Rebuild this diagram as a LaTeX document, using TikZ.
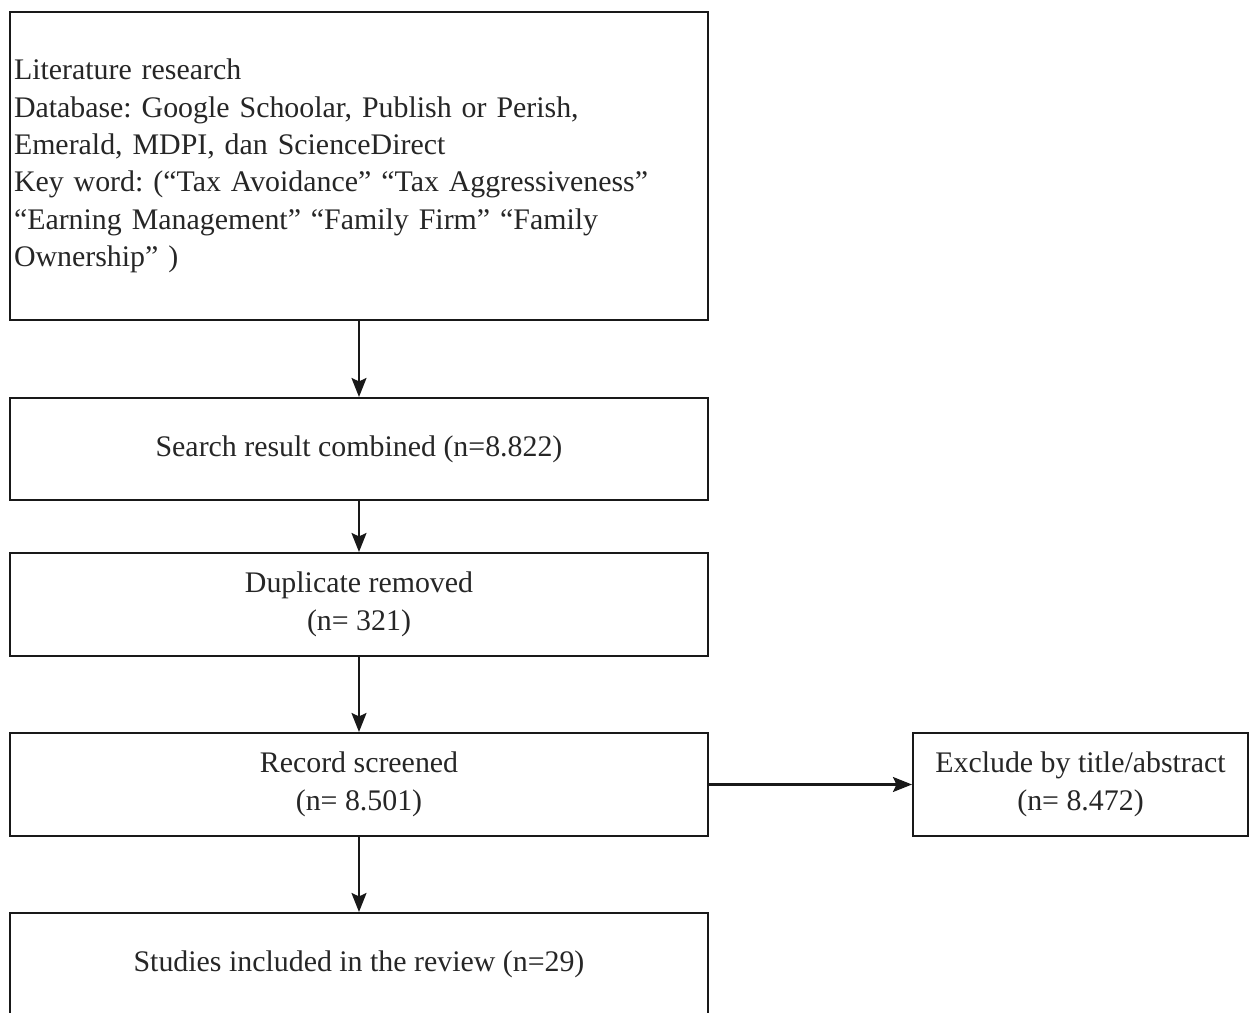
\documentclass[tikz,border=0pt]{standalone}
\usepackage{fontspec}
\setmainfont{Liberation Serif}
\usetikzlibrary{positioning}
\usetikzlibrary{arrows.meta}

\tikzset{
  flowbox/.style={draw=black!90,line width=1.2pt,rectangle,minimum width=13.96cm,inner sep=0pt,font=\fontsize{17}{21.3}\selectfont\frenchspacing,text=black!85,align=center},
  sidebox/.style={flowbox,minimum width=6.7cm,minimum height=2.06cm},
  flowarrow/.style={draw=black!90,line width=1.2pt,-{Stealth[length=0.38cm,width=0.3cm,inset=0.07cm]}}
}

\begin{document}
\begin{tikzpicture}
\useasboundingbox (0,0) rectangle (24.98,-20.24);
\node[flowbox,minimum height=6.16cm,text width=13.8cm,align=left] (L) at (7.18,-3.32) {Literature research\\
Database: Google Schoolar, Publish or Perish,\\
Emerald, MDPI, dan ScienceDirect\\
Key word: (``Tax Avoidance'' ``Tax Aggressiveness''\\
``Earning Management'' ``Family Firm'' ``Family\\
Ownership'' )\\[0.85cm]};
\node[flowbox,minimum height=2.04cm] (S) at (7.18,-8.98) {Search result combined (n=8.822)};
\node[flowbox,minimum height=2.06cm] (D) at (7.18,-12.09) {Duplicate removed\\(n= 321)};
\node[flowbox,minimum height=2.06cm] (R) at (7.18,-15.69) {Record screened\\(n= 8.501)};
\node[sidebox] (E) at (21.61,-15.69) {Exclude by title/abstract\\(n= 8.472)};
\node[flowbox,minimum height=2.04cm] (I) at (7.18,-19.28) {Studies included in the review (n=29)};

\draw[flowarrow] (L) -- (S);
\draw[flowarrow] (S) -- (D);
\draw[flowarrow] (D) -- (R);
\draw[flowarrow] (R) -- (I);
\draw[flowarrow] (R) -- (E);

\end{tikzpicture}
\end{document}
